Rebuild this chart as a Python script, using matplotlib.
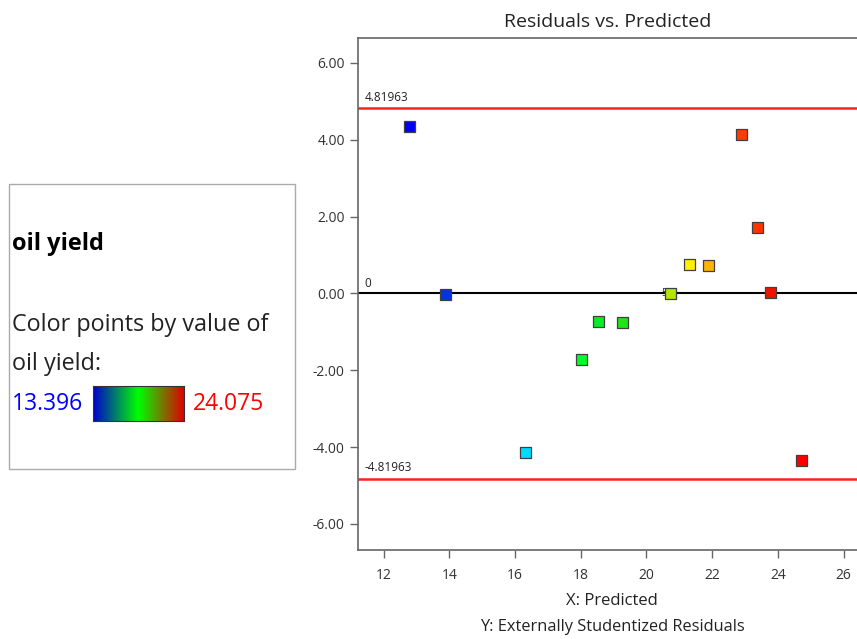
import matplotlib
matplotlib.use("Agg")
import matplotlib.pyplot as plt
import numpy as np
from matplotlib.colors import LinearSegmentedColormap
from matplotlib.patches import Rectangle

plt.rcParams["font.family"] = ["Open Sans", "DejaVu Sans"]

# Data
predicted = [12.79, 13.89, 16.32, 18.03, 18.54, 19.27, 20.73, 21.31, 21.89, 22.89, 23.38, 23.78, 24.72]
residuals = [4.35, -0.03, -4.14, -1.72, -0.73, -0.76, 0.0, 0.76, 0.73, 4.14, 1.72, 0.03, -4.35]
point_colors = ["#0000ff", "#0032e6", "#00dcff", "#00ff28", "#00f028", "#1ee614",
                "#b4e600", "#fff000", "#ffb400", "#ff3c00", "#ff3200", "#f01400", "#ff0000"]
limit = 4.81963
yield_min, yield_max = 13.396, 24.075
y_ticks = [-6, -4, -2, 0, 2, 4, 6]
x_ticks = [12, 14, 16, 18, 20, 22, 24, 26]

W, H = 857, 639
fig = plt.figure(figsize=(W / 100, H / 100), dpi=100)

# main plot
ax = fig.add_axes([358 / W, (H - 550) / H, 1 - 358 / W, (550 - 38) / H])
ax.set_xlim(11.22, 26.41)
ax.set_ylim(-6.68, 6.65)
ax.axhline(limit, color="#ff2020", lw=1.8, zorder=2)
ax.axhline(-limit, color="#ff2020", lw=1.8, zorder=2)
ax.axhline(0, color="black", lw=1.5, zorder=2)
ax.scatter(predicted, residuals, c=point_colors, marker="s", s=58,
           edgecolors="#404040", linewidths=0.9, zorder=3)

ax.text(11.42, limit + 0.12, f"{limit:.5f}", fontsize=8.5, color="#222222", va="bottom")
ax.text(11.42, -limit + 0.12, f"{-limit:.5f}", fontsize=8.5, color="#222222", va="bottom")
ax.text(11.42, 0.08, "0", fontsize=8.5, color="#222222", va="bottom")
ax.text(20.45, 0.0, "5", fontsize=7, color="#222222", va="center", zorder=2)

ax.set_xticks(x_ticks)
ax.set_yticks(y_ticks)
ax.set_yticklabels([f"{v:.2f}" for v in y_ticks])
ax.tick_params(direction="out", length=6, width=1, colors="#666666",
               labelcolor="#333333", labelsize=10)
ax.tick_params(axis="x", pad=7)
for side in ["left", "bottom", "top"]:
    ax.spines[side].set_color("#666666")
    ax.spines[side].set_linewidth(1.2)
ax.spines["right"].set_visible(False)

ax.set_title("Residuals vs. Predicted", fontsize=14, color="#222222", pad=8)
fig.text(612 / W, 1 - 601 / H, "X: Predicted", fontsize=12, color="#222222",
         ha="center", va="center")
fig.text(612 / W, 1 - 627 / H, "Y: Externally Studentized Residuals", fontsize=11.8,
         color="#222222", ha="center", va="center")

# legend box on the left
fig.patches.append(Rectangle((9 / W, 1 - 469 / H), 286 / W, 285 / H, transform=fig.transFigure,
                             fill=False, edgecolor="#aaaaaa", lw=1))
fig.text(12 / W, 1 - 244 / H, "oil yield", fontsize=17, fontweight="bold", va="center")
fig.text(12 / W, 1 - 325 / H, "Color points by value of", fontsize=16.8, color="#222222", va="center")
fig.text(12 / W, 1 - 364 / H, "oil yield:", fontsize=16.8, color="#222222", va="center")
fig.text(12 / W, 1 - 404 / H, f"{yield_min:.3f}", fontsize=16.5, color="#0000ff", va="center")
fig.text(193 / W, 1 - 404 / H, f"{yield_max:.3f}", fontsize=16.5, color="#ff0000", va="center")

cmap = LinearSegmentedColormap.from_list("oy", ["#0000d0", "#00ff00", "#e00000"])
cax = fig.add_axes([93 / W, 1 - 421 / H, 91 / W, 35 / H])
cax.imshow(np.linspace(0, 1, 256)[None, :], aspect="auto", cmap=cmap)
cax.set_xticks([])
cax.set_yticks([])
for sp in cax.spines.values():
    sp.set_color("#333333")

fig.savefig("out.png", dpi=100)
